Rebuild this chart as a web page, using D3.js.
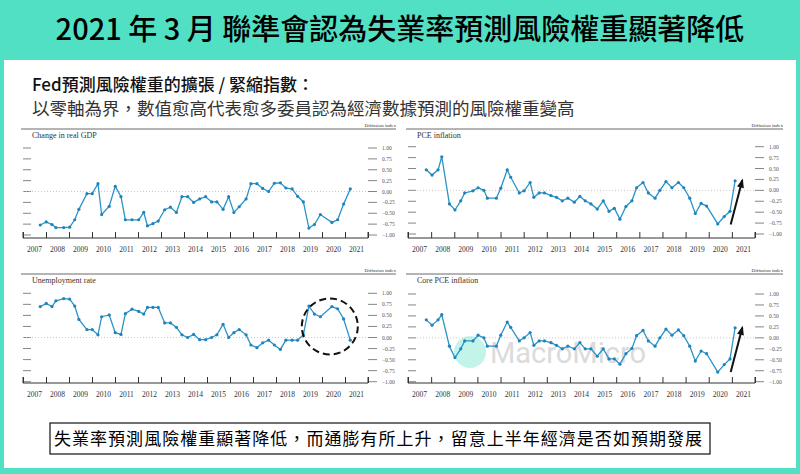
<!DOCTYPE html>
<html><head><meta charset="utf-8">
<script src="https://cdn.jsdelivr.net/npm/d3@7"></script>
<style>body{margin:0;}svg{display:block;}</style>
</head><body>
<svg id="c" width="800" height="474"></svg>
<script>
const titleText = "2021 年 3 月 聯準會認為失業率預測風險權重顯著降低";
const subtitle1 = "Fed預測風險權重的擴張 / 緊縮指數：";
const subtitle2 = "以零軸為界，數值愈高代表愈多委員認為經濟數據預測的風險權重變高";
const footnote = "失業率預測風險權重顯著降低，而通膨有所上升，留意上半年經濟是否如預期發展";
const yearLabels = ["2007","2008","2009","2010","2011","2012","2013","2014","2015","2016","2017","2018","2019","2020","2021"];
const yTicks = [1,0.75,0.5,0.25,0,-0.25,-0.5,-0.75,-1];
const yTickLabels = ["1.00","0.75","0.50","0.25","0.00","−0.25","−0.50","−0.75","−1.00"];

const gdpDates = [2007.75,2008.01,2008.26,2008.43,2008.77,2009.03,2009.25,2009.43,2009.78,2010.01,2010.26,2010.42,2010.75,2011.01,2011.26,2011.45,2011.74,2012.03,2012.25,2012.41,2012.65,2012.88,2013.16,2013.41,2013.67,2013.91,2014.16,2014.42,2014.68,2014.94,2015.2,2015.43,2015.7,2015.94,2016.17,2016.4,2016.7,2016.91,2017.17,2017.42,2017.68,2017.93,2018.19,2018.43,2018.7,2018.94,2019.19,2019.43,2019.67,2019.93,2020.43,2020.68,2020.94,2021.23];
const gdpValues = [-0.77,-0.70,-0.76,-0.83,-0.83,-0.82,-0.65,-0.41,-0.05,-0.05,0.18,-0.53,-0.34,0.12,-0.12,-0.65,-0.65,-0.65,-0.48,-0.79,-0.74,-0.68,-0.42,-0.36,-0.48,-0.12,-0.12,-0.25,-0.17,-0.12,-0.24,-0.24,-0.41,-0.12,-0.48,-0.35,-0.17,0.18,0.18,0.07,0,0.19,0.20,0.08,0.06,-0.11,-0.24,-0.84,-0.76,-0.53,-0.71,-0.65,-0.29,0.06];
const unempValues = [0.70,0.77,0.70,0.83,0.88,0.87,0.71,0.41,0.18,0.18,0.06,0.47,0.51,0.11,0.07,0.54,0.64,0.59,0.53,0.68,0.68,0.68,0.33,0.33,0.23,0.06,0,0.07,-0.05,-0.05,0,0.06,0.30,0,0.11,0.18,0.06,-0.17,-0.23,-0.12,-0.06,-0.17,-0.27,-0.06,-0.06,-0.06,0.06,0.71,0.53,0.47,0.70,0.65,0.42,-0.06];
const pceDates = [2007.79,2008.04,2008.30,2008.46,2008.79,2009.03,2009.28,2009.45,2009.81,2010.03,2010.28,2010.43,2010.82,2011.01,2011.29,2011.44,2011.81,2012.02,2012.28,2012.44,2012.67,2012.90,2013.18,2013.42,2013.67,2013.91,2014.19,2014.43,2014.66,2014.91,2015.18,2015.44,2015.69,2015.92,2016.16,2016.42,2016.68,2016.88,2017.16,2017.39,2017.68,2017.89,2018.15,2018.41,2018.69,2018.92,2019.18,2019.42,2019.67,2019.91,2020.39,2020.67,2020.92,2021.14];
const pceValues = [0.47,0.35,0.47,0.77,-0.31,-0.45,-0.24,-0.06,-0.01,0.06,0,-0.18,-0.18,0.05,0.47,0.30,-0.06,-0.01,0.18,-0.16,-0.06,-0.06,-0.12,-0.16,-0.24,-0.18,-0.27,-0.14,-0.24,-0.31,-0.43,-0.24,-0.48,-0.41,-0.66,-0.37,-0.24,0.06,0.18,-0.06,-0.18,0,0.20,0.06,0.18,0.06,-0.18,-0.53,-0.30,-0.36,-0.77,-0.60,-0.48,0.22];
const corePceValues = [0.41,0.29,0.41,0.53,-0.19,-0.45,-0.25,-0.07,-0.07,0.06,0,-0.19,-0.19,0.06,0.36,0.24,-0.07,0,0.12,-0.17,-0.07,-0.07,-0.11,-0.17,-0.25,-0.19,-0.25,-0.11,-0.25,-0.25,-0.42,-0.25,-0.48,-0.48,-0.60,-0.36,-0.24,0.05,0.17,-0.07,-0.19,0,0.20,0.06,0.18,0.05,-0.19,-0.53,-0.30,-0.36,-0.78,-0.61,-0.48,0.23];

const panels = [
  {name:"Change in real GDP", dates:gdpDates, values:gdpValues, x0:23, x1:368, yTop:148, yBot:235, base:238, head:129},
  {name:"PCE inflation", dates:pceDates, values:pceValues, x0:408, x1:755, yTop:146.7, yBot:234, base:238, head:129, arrow:[2020.95,-0.78,2021.45,0.23]},
  {name:"Unemployment rate", dates:gdpDates, values:unempValues, x0:23, x1:368, yTop:293.3, yBot:381.7, base:383, head:274, circle:[2020.34,0.25]},
  {name:"Core PCE inflation", dates:pceDates, values:corePceValues, x0:408, x1:755, yTop:294, yBot:381.7, base:383, head:274, arrow:[2020.95,-0.78,2021.45,0.23]}
];

const svg = d3.select("#c");
const teal = "#52e0c4";
svg.append("rect").attr("width",800).attr("height",474).attr("fill",teal);
svg.append("rect").attr("x",4).attr("y",60).attr("width",792).attr("height",408).attr("fill","#fff");
svg.append("text").attr("x",400).attr("y",32).attr("text-anchor","middle").attr("dominant-baseline","middle")
  .attr("font-family","'Noto Sans CJK TC'").attr("font-size",29).attr("font-weight",500).attr("fill","#000").text(titleText);
svg.append("text").attr("x",32).attr("y",91).attr("font-family","'Noto Sans CJK TC'").attr("font-size",17).attr("font-weight",500).attr("fill","#111").text(subtitle1);
svg.append("text").attr("x",32).attr("y",115).attr("font-family","'Noto Sans CJK TC'").attr("font-size",17.5).attr("fill","#333").text(subtitle2);

// watermark
const wm = svg.append("g").attr("opacity",0.35);
wm.append("circle").attr("cx",470).attr("cy",352).attr("r",16).attr("fill",teal);
wm.append("text").attr("x",490).attr("y",363).attr("font-family","Roboto").attr("font-size",29).attr("fill","#999").text("MacroMicro");

const serif = "'Liberation Serif', serif";
panels.forEach(p=>{
  const g = svg.append("g");
  const x = d3.scaleLinear().domain([2007,2022]).range([p.x0,p.x1]);
  const y = d3.scaleLinear().domain([-1,1]).range([p.yBot,p.yTop]);
  const labX = p.x1+14;
  g.append("line").attr("x1",p.x0-2).attr("x2",labX+14).attr("y1",p.head).attr("y2",p.head).attr("stroke","#444").attr("stroke-width",0.8);
  g.append("text").attr("x",labX+14).attr("y",p.head-2).attr("text-anchor","end").attr("font-family",serif).attr("font-size",5).attr("fill","#333").text("Diffusion index");
  g.append("text").attr("x",p.x0+9).attr("y",p.head+9).attr("font-family",serif).attr("font-size",8).attr("fill","#333").text(p.name);
  yTicks.forEach((t,i)=>{
    g.append("line").attr("x1",p.x0).attr("x2",p.x0+8).attr("y1",y(t)).attr("y2",y(t)).attr("stroke","#666").attr("stroke-width",0.8);
    g.append("line").attr("x1",p.x1).attr("x2",p.x1+9).attr("y1",y(t)).attr("y2",y(t)).attr("stroke","#666").attr("stroke-width",0.8);
    g.append("text").attr("x",labX).attr("y",y(t)+2).attr("font-family",serif).attr("font-size",5.5).attr("fill","#555").text(yTickLabels[i]);
  });
  g.append("line").attr("x1",x(2007)).attr("x2",x(2022)).attr("y1",y(0)).attr("y2",y(0)).attr("stroke","#bbb").attr("stroke-width",0.8).attr("stroke-dasharray","1,2");
  const ax = d3.axisBottom(x).tickValues(d3.range(2007,2023)).tickSize(-6).tickFormat("");
  const axg = g.append("g").attr("transform",`translate(0,${p.base})`).call(ax);
  axg.select(".domain").attr("stroke","#333").attr("d",`M${x(2007)},-6V0H${x(2022)}V-6`);
  axg.selectAll(".tick line").attr("stroke","#333");
  yearLabels.forEach((l,i)=>{
    g.append("text").attr("x",x(2007+i+0.5)).attr("y",p.base+14).attr("text-anchor","middle").attr("font-family",serif).attr("font-size",7.5).attr("fill","#333").text(l);
  });
  const pts = p.dates.map((d,i)=>[d,p.values[i]]);
  g.append("path").datum(pts).attr("fill","none").attr("stroke","#2b93c7").attr("stroke-width",1.3)
    .attr("d",d3.line().x(d=>x(d[0])).y(d=>y(d[1])));
  g.selectAll("circle.pt").data(pts).join("circle").attr("class","pt").attr("cx",d=>x(d[0])).attr("cy",d=>y(d[1])).attr("r",1.6).attr("fill","#1f84bb");
  if(p.arrow){
    const [a,b,c,d]=p.arrow;
    const x1=x(a),y1=y(b),x2=x(c),y2=y(d);
    g.append("line").attr("x1",x1).attr("y1",y1).attr("x2",x2).attr("y2",y2).attr("stroke","#111").attr("stroke-width",2);
    const ang=Math.atan2(y2-y1,x2-x1), L=8;
    g.append("path").attr("d",`M${x2+Math.cos(ang)*2},${y2+Math.sin(ang)*2}L${x2-L*Math.cos(ang-0.45)},${y2-L*Math.sin(ang-0.45)}L${x2-L*Math.cos(ang+0.45)},${y2-L*Math.sin(ang+0.45)}Z`).attr("fill","#111");
  }
  if(p.circle){
    g.append("circle").attr("cx",x(p.circle[0])).attr("cy",y(p.circle[1])).attr("r",28).attr("fill","none").attr("stroke","#111").attr("stroke-width",2).attr("stroke-dasharray","7,4");
  }
});

svg.append("rect").attr("x",50).attr("y",423).attr("width",660).attr("height",31).attr("fill","#fff").attr("stroke","#111").attr("stroke-width",1.2);
svg.append("text").attr("x",54).attr("y",445).attr("font-family","'Noto Sans CJK TC'").attr("font-size",17).attr("fill","#000").attr("textLength",648).text(footnote);
</script>
</body></html>
